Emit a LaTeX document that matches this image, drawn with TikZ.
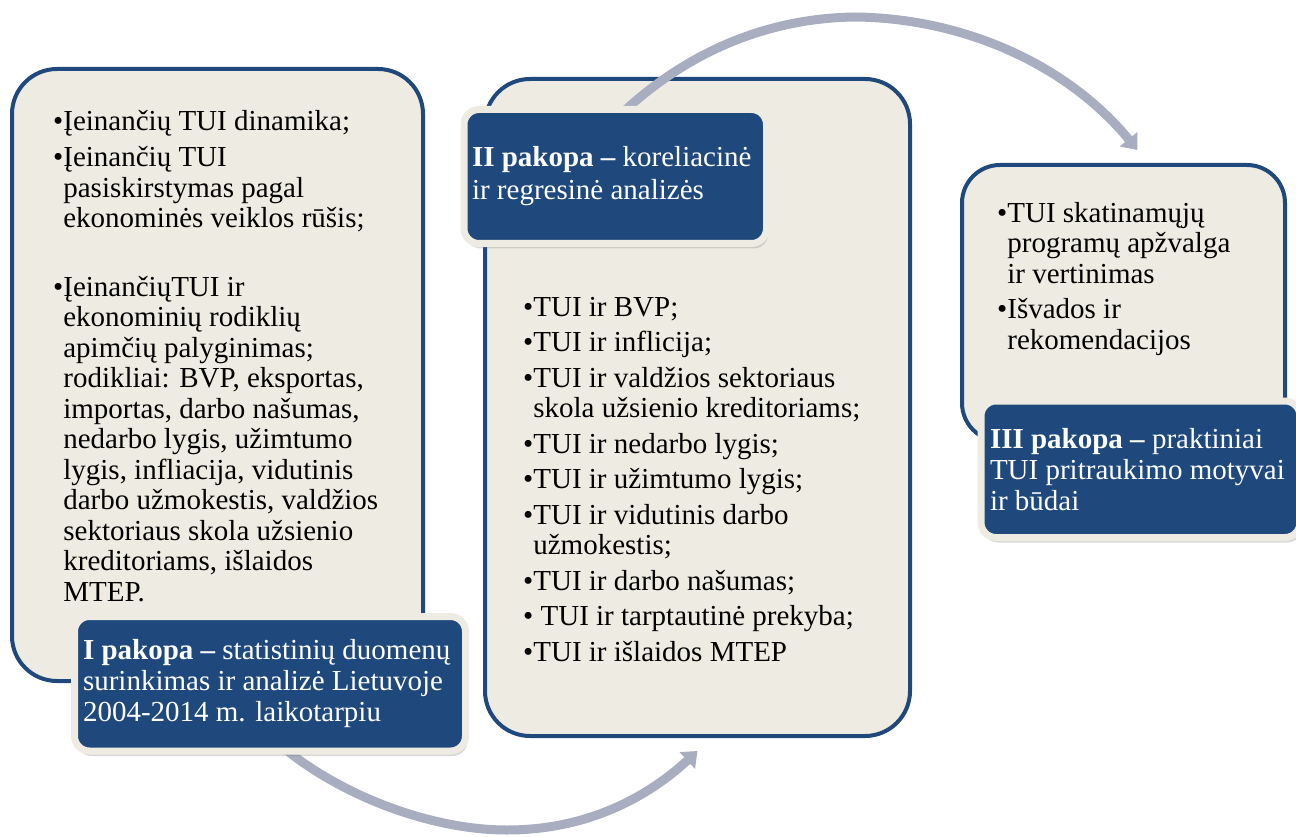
\documentclass[tikz,border=0pt]{standalone}
\usepackage{fontspec}
\setmainfont{Liberation Serif}
\usetikzlibrary{arrows.meta,shadows}

\definecolor{cream}{RGB}{238,236,226}
\definecolor{navy}{RGB}{31,73,125}
\definecolor{flowgray}{RGB}{168,173,191}

\pgfdeclarelayer{boxes}
\pgfdeclarelayer{flows}
\pgfsetlayers{boxes,flows,main}

\newcommand{\bsp}{\hphantom{•}}

\tikzset{
  bigbox/.style={draw=navy, line width=4pt, fill=cream, rounded corners=45pt, inner sep=0pt},
  stagebox/.style={fill=navy, draw=cream, line width=7pt, rounded corners=15pt,
    text=white, align=flush left, inner ysep=0pt,
    font=\fontsize{29}{31}\selectfont,
    drop shadow={shadow xshift=2pt, shadow yshift=-5pt, opacity=0.3}},
  listtext/.style={anchor=base west, align=left, inner sep=0pt, font=\fontsize{29}{30.5}\selectfont},
  flow/.style={draw=flowgray, line width=9pt, -{Triangle[length=14pt,width=22pt]}}
}

\begin{document}
\begin{tikzpicture}[x=1pt,y=-1pt]
\useasboundingbox (0,0) rectangle (1296,837);

\begin{pgfonlayer}{boxes}
\node[bigbox, minimum width=411, minimum height=612] (box1) at (217.5,375) {};
\node[bigbox, minimum width=425, minimum height=657] (box2) at (697.5,407.5) {};
\node[bigbox, rounded corners=38pt, minimum width=323, minimum height=276] (box3) at (1123.5,303) {};
\end{pgfonlayer}

% turiniai (padeti pagal paskutines eilutes bazine linija)
\node[listtext] (tx1) at (53,601) {•Įeinančių TUI dinamika;\\[6pt]
•Įeinančių TUI\\
\bsp pasiskirstymas pagal\\
\bsp ekonominės veiklos rūšis;\\[38pt]
•ĮeinančiųTUI ir\\
\bsp ekonominių rodiklių\\
\bsp apimčių palyginimas;\\
\bsp rodikliai: BVP, eksportas,\\
\bsp importas, darbo našumas,\\
\bsp nedarbo lygis, užimtumo\\
\bsp lygis, infliacija, vidutinis\\
\bsp darbo užmokestis, valdžios\\
\bsp sektoriaus skola užsienio\\
\bsp kreditoriams, išlaidos\\
\bsp MTEP.};
\node[listtext] (tx2) at (523,661) {•TUI ir BVP;\\[5pt]
•TUI ir inflicija;\\[5pt]
•TUI ir valdžios sektoriaus\\
\bsp skola užsienio kreditoriams;\\[5pt]
•TUI ir nedarbo lygis;\\[5pt]
•TUI ir užimtumo lygis;\\[5pt]
•TUI ir vidutinis darbo\\
\bsp užmokestis;\\[5pt]
•TUI ir darbo našumas;\\[5pt]
• TUI ir tarptautinė prekyba;\\[5pt]
•TUI ir išlaidos MTEP};
\node[listtext] (tx3) at (997,349) {•TUI skatinamųjų\\
\bsp programų apžvalga\\
\bsp ir vertinimas\\[5pt]
•Išvados ir\\
\bsp rekomendacijos};

% pakopos
\node[stagebox, inner xsep=8.5pt, text width=374, minimum height=134.5] (lab1) at (270,683.75)
  {\textbf{I pakopa –} statistinių duomenų\\ surinkimas ir analizė Lietuvoje\\ 2004-2014 m. laikotarpiu};
\node[stagebox, inner xsep=8pt, text width=286.5, minimum height=134,
  font=\fontsize{29}{33}\selectfont] (lab2) at (615.25,176.5)
  {\textbf{II pakopa –} koreliacinė\\ ir regresinė analizės};
\node[stagebox, inner xsep=9pt, text width=301, minimum height=136.5] (lab3) at (1140.5,469.25)
  {\textbf{III pakopa –} praktiniai\\ TUI pritraukimo motyvai\\ ir būdai};

\begin{pgfonlayer}{flows}
\draw[flow] ([xshift=12pt,yshift=8pt]lab1.south) .. controls (340,795) and (430,830) .. (507,830)
  .. controls (590,830) and (650,795) .. ([yshift=-13pt]box2.south);
\draw[flow] ([xshift=8pt,yshift=-6pt]lab2.north) .. controls (690,50) and (770,18) .. (855,17)
  .. controls (960,18) and (1065,62) .. ([xshift=14pt,yshift=13pt]box3.north);
\end{pgfonlayer}
\end{tikzpicture}
\end{document}
